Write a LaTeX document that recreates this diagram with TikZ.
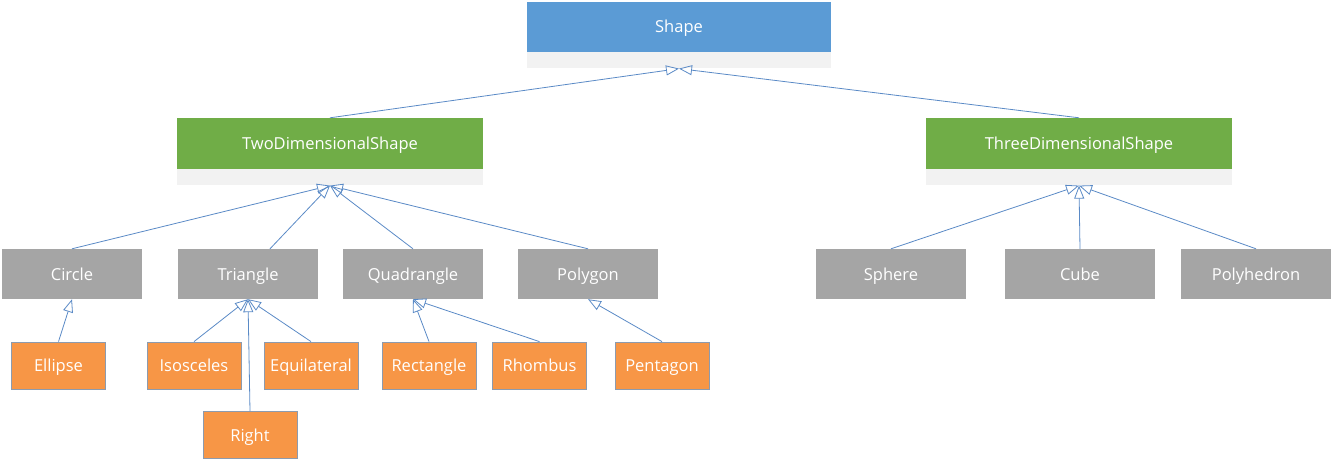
\documentclass[tikz,border=0pt]{standalone}
\usepackage{fontspec}
\setmainfont{Open Sans}
\usetikzlibrary{arrows.meta}
\definecolor{shapeblue}{HTML}{5B9BD5}
\definecolor{shapegreen}{HTML}{70AD47}
\definecolor{shapegray}{HTML}{A5A5A5}
\definecolor{shapeorange}{HTML}{F79646}
\definecolor{bandgray}{HTML}{F2F2F2}
\definecolor{linkblue}{HTML}{5A8AC6}
\definecolor{edgegray}{HTML}{8C9BAF}
\begin{document}
\begin{tikzpicture}[x=1pt, y=-1pt,
  box/.style={rectangle, inner sep=0pt, text=white, text height=12pt, text depth=0pt, font=\fontsize{16.5}{19}\selectfont},
  topbox/.style={box, fill=shapeblue, minimum width=304pt, minimum height=50pt},
  midbox/.style={box, fill=shapegreen, minimum width=306pt, minimum height=51pt},
  band/.style={rectangle, inner sep=0pt, fill=bandgray, minimum width=#1, minimum height=16pt},
  graybox/.style={box, fill=shapegray, minimum width=#1, minimum height=50pt},
  leafbox/.style={box, fill=shapeorange, draw=edgegray, line width=0.8pt, minimum width=94pt, minimum height=47pt},
  isa/.style={draw=linkblue, line width=0.8pt, -{Triangle[open, length=13pt, width=10pt]}}]
  \useasboundingbox (0,0) rectangle (1333,460);

  % top class
  \node[topbox] (shape) at (679,27) {Shape};
  \node[band=304pt, anchor=north] (shapeband) at (shape.south) {};

  % second level
  \node[midbox] (twod) at (330,143.5) {TwoDimensionalShape};
  \node[band=306pt, anchor=north] (twodband) at (twod.south) {};
  \node[midbox] (threed) at (1079,143.5) {ThreeDimensionalShape};
  \node[band=306pt, anchor=north] (threedband) at (threed.south) {};

  % third level
  \node[graybox=140pt] (circle) at (72,274) {Circle};
  \node[graybox=140pt] (triangle) at (248,274) {Triangle};
  \node[graybox=140pt] (quadrangle) at (413,274) {Quadrangle};
  \node[graybox=140pt] (polygon) at (588,274) {Polygon};
  \node[graybox=150pt] (sphere) at (891,274) {Sphere};
  \node[graybox=150pt] (cube) at (1080,274) {Cube};
  \node[graybox=150pt] (polyhedron) at (1256,274) {Polyhedron};

  % leaves
  \node[leafbox] (ellipse) at (58.5,365.5) {Ellipse};
  \node[leafbox] (isosceles) at (194,365.5) {Isosceles};
  \node[leafbox] (equilateral) at (311,365.5) {Equilateral};
  \node[leafbox] (rectangle) at (429,365.5) {Rectangle};
  \node[leafbox] (rhombus) at (539.5,365.5) {Rhombus};
  \node[leafbox] (pentagon) at (662,365.5) {Pentagon};
  \node[leafbox] (right) at (250,435) {Right};

  % inheritance
  \draw[isa] (twod.north) -- (shapeband.south);
  \draw[isa] (threed.north) -- (shapeband.south);
  \draw[isa] (circle.north) -- (twodband.south);
  \draw[isa] ([xshift=22pt]triangle.north) -- (twodband.south);
  \draw[isa] (quadrangle.north) -- (twodband.south);
  \draw[isa] (polygon.north) -- (twodband.south);
  \draw[isa] (sphere.north) -- (threedband.south);
  \draw[isa] (cube.north) -- (threedband.south);
  \draw[isa] (polyhedron.north) -- (threedband.south);
  \draw[isa] (ellipse.north) -- (circle.south);
  \draw[isa] (isosceles.north) -- (triangle.south);
  \draw[isa] (equilateral.north) -- (triangle.south);
  \draw[isa] (right.north) -- (triangle.south);
  \draw[isa] (rectangle.north) -- (quadrangle.south);
  \draw[isa] (rhombus.north) -- (quadrangle.south);
  \draw[isa] (pentagon.north) -- (polygon.south);

\end{tikzpicture}
\end{document}
